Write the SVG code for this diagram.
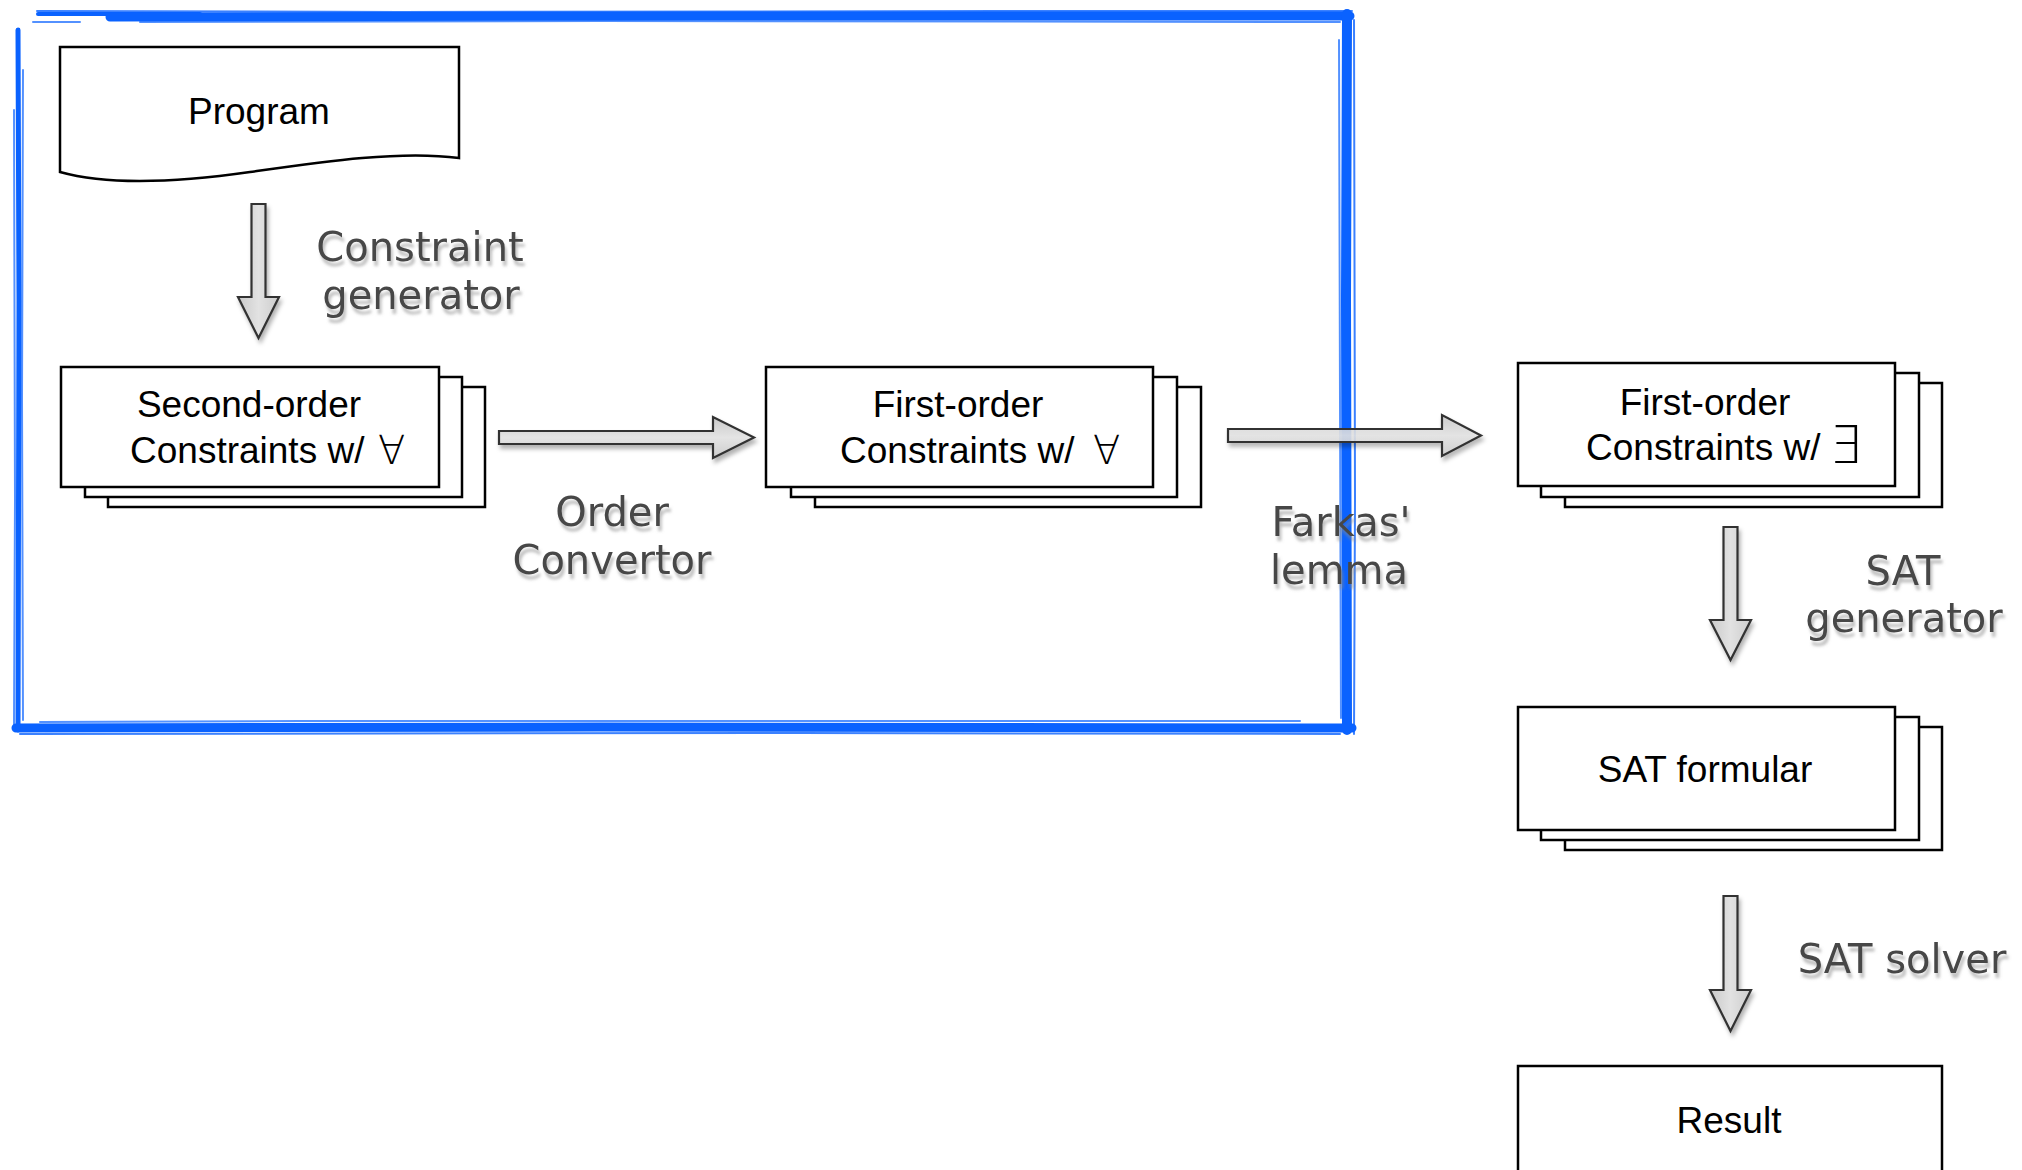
<svg xmlns="http://www.w3.org/2000/svg" width="2022" height="1170" viewBox="0 0 2022 1170">
  <style>
    .box { fill: #ffffff; stroke: #000000; stroke-width: 2.5; }
    .node-text { font-family: "Liberation Sans", Arial, sans-serif; font-size: 37px; fill: #000000; }
    .sym { font-family: "DejaVu Sans", sans-serif; font-size: 40px; font-weight: 200; }
    .sym-big { font-family: "DejaVu Sans", sans-serif; font-size: 52px; font-weight: 200; }
    .label { font-family: "DejaVu Sans", Verdana, sans-serif; font-size: 40px; fill: #474747; text-anchor: middle; }
    .arrow { stroke: #333333; stroke-width: 2.2; stroke-linejoin: miter; }
    .blue { fill: none; stroke: #0a62ff; stroke-linecap: round; stroke-linejoin: round; }
  </style>
  <defs>
    <filter id="textShadow" x="-10%" y="-20%" width="130%" height="160%">
      <feGaussianBlur in="SourceAlpha" stdDeviation="1.6" result="b"/>
      <feOffset in="b" dx="2" dy="5" result="o"/>
      <feFlood flood-color="#8a8a8a" flood-opacity="0.55"/>
      <feComposite in2="o" operator="in" result="s"/>
      <feMerge>
        <feMergeNode in="s"/>
        <feMergeNode in="SourceGraphic"/>
      </feMerge>
    </filter>
    <filter id="arrowShadow" x="-20%" y="-30%" width="140%" height="170%">
      <feGaussianBlur in="SourceAlpha" stdDeviation="2" result="b"/>
      <feOffset in="b" dx="2" dy="4" result="o"/>
      <feFlood flood-color="#000000" flood-opacity="0.3"/>
      <feComposite in2="o" operator="in" result="s"/>
      <feMerge>
        <feMergeNode in="s"/>
        <feMergeNode in="SourceGraphic"/>
      </feMerge>
    </filter>
    <linearGradient id="gradH" x1="0" y1="0" x2="0" y2="1">
      <stop offset="0" stop-color="#c9c9c9"/>
      <stop offset="0.5" stop-color="#e4e4e4"/>
      <stop offset="1" stop-color="#cdcdcd"/>
    </linearGradient>
    <linearGradient id="gradV" x1="0" y1="0" x2="1" y2="0">
      <stop offset="0" stop-color="#c9c9c9"/>
      <stop offset="0.5" stop-color="#e2e2e2"/>
      <stop offset="1" stop-color="#cdcdcd"/>
    </linearGradient>
  </defs>

  <rect x="0" y="0" width="2022" height="1170" fill="#ffffff"/>

  <!-- hand-drawn blue frame around the constraint stages -->
  <g id="frame">
    <path class="blue" stroke-width="9" d="M110,17 L700,16 L1350,16"/>
    <path class="blue" stroke-width="4" d="M38,14 L200,14"/>
    <path class="blue" stroke-width="2" opacity="0.8" d="M37,11 L400,12 L1000,11 L1352,11"/>
    <path class="blue" stroke-width="2" opacity="0.7" d="M33,22 L80,22 M140,22 L600,21 L1340,22"/>
    <path class="blue" stroke-width="10" d="M1347,14 L1346,300 L1347,730"/>
    <path class="blue" stroke-width="2" opacity="0.7" d="M1339,40 L1340,400 L1341,718"/>
    <path class="blue" stroke-width="2" opacity="0.8" d="M1354,20 L1355,500 L1354,734"/>
    <path class="blue" stroke-width="9" d="M16,728 L600,727 L1352,728"/>
    <path class="blue" stroke-width="2" opacity="0.7" d="M40,722 L300,721 L1300,721"/>
    <path class="blue" stroke-width="2" opacity="0.8" d="M20,734 L800,733 L1340,734"/>
    <path class="blue" stroke-width="5" d="M18,30 L19,300 L18,730"/>
    <path class="blue" stroke-width="2" opacity="0.7" d="M23,70 L22,400 L23,720"/>
    <path class="blue" stroke-width="2" opacity="0.7" d="M14,110 L15,500 L14,726"/>
  </g>

  <!-- transformation arrows -->
  <g id="connectors" filter="url(#arrowShadow)">
    <path class="arrow" fill="url(#gradV)" d="M251.5,204 H265.5 V297 H279 L258.5,338 L238,297 H251.5 Z"/>
    <path class="arrow" fill="url(#gradH)" d="M499,431 H713 V417 L754,437.5 L713,458 V444 H499 Z"/>
    <path class="arrow" fill="url(#gradH)" fill-opacity="0.88" d="M1228,429 H1442 V415 L1481,435.5 L1442,456 V442 H1228 Z"/>
    <path class="arrow" fill="url(#gradV)" d="M1723.5,527 H1737.5 V620 H1751 L1730.5,660 L1710,620 H1723.5 Z"/>
    <path class="arrow" fill="url(#gradV)" d="M1723.5,896 H1737.5 V990 H1751 L1730.5,1031 L1710,990 H1723.5 Z"/>
  </g>

  <!-- step labels -->
  <g id="labels" filter="url(#textShadow)">
    <text class="label" x="420" y="261">Constraint</text>
    <text class="label" x="421" y="309">generator</text>
    <text class="label" x="612" y="526">Order</text>
    <text class="label" x="612" y="574">Convertor</text>
    <text class="label" x="1341" y="536">Farkas'</text>
    <text class="label" x="1339" y="584">lemma</text>
    <text class="label" x="1903" y="585">SAT</text>
    <text class="label" x="1904" y="632">generator</text>
    <text class="label" x="1902" y="973">SAT solver</text>
  </g>

  <g id="program">
    <path class="box" d="M60,47 H459 V158 C400,150 320,162 250,172 C180,182 110,186 60,172 Z"/>
    <text class="node-text" x="259" y="124" text-anchor="middle">Program</text>
  </g>

  <g id="second-order">
    <rect class="box" x="108" y="387" width="377" height="120"/>
    <rect class="box" x="85" y="377" width="377" height="120"/>
    <rect class="box" x="61" y="367" width="378" height="120"/>
    <text class="node-text" x="249" y="417" text-anchor="middle">Second-order</text>
    <text class="node-text" x="130" y="463">Constraints w/</text>
    <text class="node-text sym" x="378" y="464">∀</text>
  </g>

  <g id="first-order-forall">
    <rect class="box" x="815" y="387" width="386" height="120"/>
    <rect class="box" x="791" y="377" width="386" height="120"/>
    <rect class="box" x="766" y="367" width="387" height="120"/>
    <text class="node-text" x="958" y="417" text-anchor="middle">First-order</text>
    <text class="node-text" x="840" y="463">Constraints w/</text>
    <text class="node-text sym" x="1093" y="464">∀</text>
  </g>

  <g id="first-order-exists">
    <rect class="box" x="1565" y="383" width="377" height="124"/>
    <rect class="box" x="1541" y="373" width="378" height="124"/>
    <rect class="box" x="1518" y="363" width="377" height="123"/>
    <text class="node-text" x="1705" y="415" text-anchor="middle">First-order</text>
    <text class="node-text" x="1586" y="460">Constraints w/</text>
    <text class="node-text sym-big" x="1829" y="463">∃</text>
  </g>

  <g id="sat-formula">
    <rect class="box" x="1565" y="727" width="377" height="123"/>
    <rect class="box" x="1541" y="717" width="378" height="123"/>
    <rect class="box" x="1518" y="707" width="377" height="123"/>
    <text class="node-text" x="1705" y="782" text-anchor="middle">SAT formular</text>
  </g>

  <g id="result">
    <rect class="box" x="1518" y="1066" width="424" height="130"/>
    <text class="node-text" x="1729" y="1133" text-anchor="middle">Result</text>
  </g>
</svg>
